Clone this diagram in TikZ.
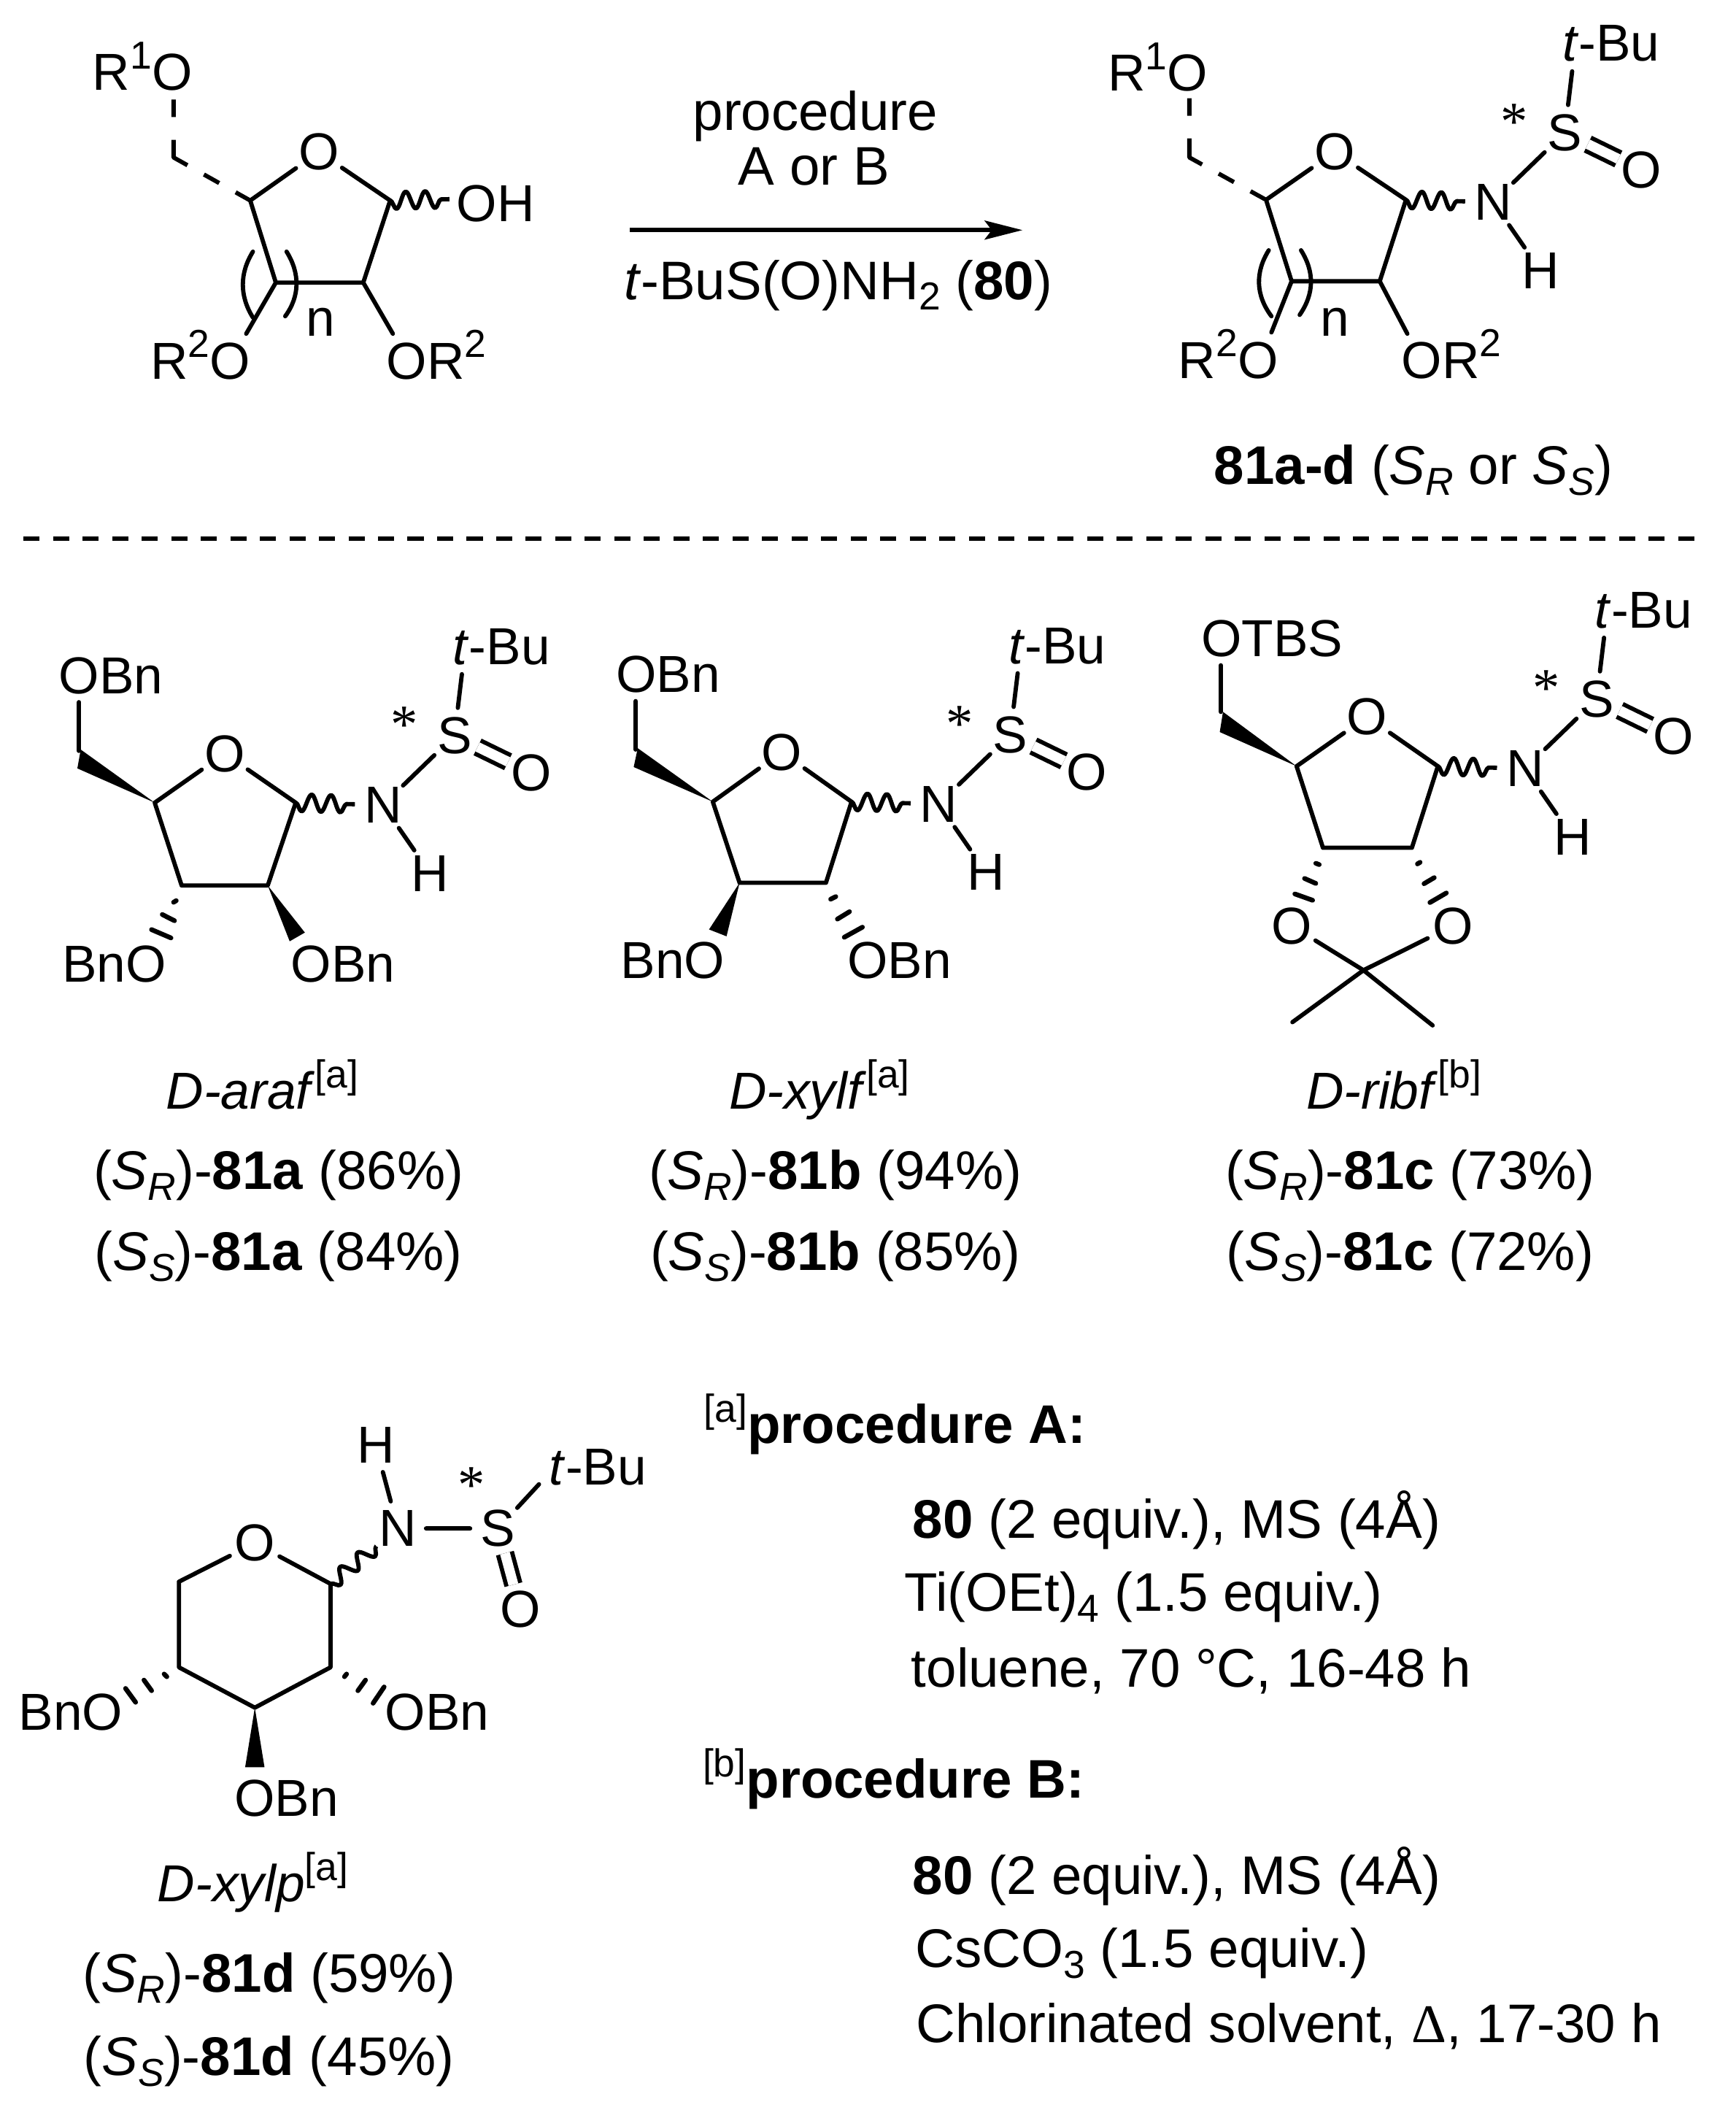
\documentclass[tikz,border=0pt]{standalone}
\usepackage{fontspec}
\setmainfont{Liberation Sans}
\newfontfamily\asterfont{Liberation Serif}
\usetikzlibrary{arrows.meta,decorations.pathmorphing}
\newcommand{\sups}[1]{\raisebox{9pt}{\fontsize{16.5}{16.5}\selectfont #1}}
\newcommand{\subs}[1]{\raisebox{-4.5pt}{\fontsize{16.5}{16.5}\selectfont #1}}
\tikzset{
  txt/.style={inner sep=0pt,font=\fontsize{22}{26}\selectfont},
  captxt/.style={inner sep=0pt,font=\fontsize{23}{27}\selectfont},
  atom/.style={txt,circle,minimum size=0.82cm},
  aster/.style={inner sep=0pt,anchor=base,font=\fontsize{23}{23}\selectfont\asterfont},
  bond/.style={line width=1.8pt,line cap=round,line join=round},
  hashbond/.style={line width=2pt,line cap=round},
  dblbond/.style={line width=1.8pt,double,double distance=4.2pt,shorten >=-1pt,shorten <=-1pt},
  wavybond/.style={line width=1.8pt,line join=round,decorate,decoration={snake,mirror,segment length=8.2pt,amplitude=3.6pt}},
  dashbond/.style={bond,line cap=butt,dash pattern=on 7.4pt off 9.6pt on 14.2pt off 8pt on 7.4pt off 8pt on 7pt},
}

\begin{document}
\begin{tikzpicture}[x=0.02cm,y=-0.02cm]
\useasboundingbox (0,0) rectangle (1290,1568);

% starting material
\coordinate (lC1) at (290,149);
\coordinate (lC2) at (270,210);
\coordinate (lC3) at (205,210);
\coordinate (lC4) at (186,149);
\coordinate (lCH) at (129,117);
\coordinate (lb1) at (129,74);
\coordinate (lb2) at (183,248);
\coordinate (lb3) at (292,248);
\coordinate (lb4) at (334,148);
\node[atom] (lO) at (237,113) {O};
\node[txt,anchor=base west] (lR1) at (68.5,67.2) {R\sups{1}O};
\node[txt,anchor=base west] (lR2) at (111.5,281.5) {R\sups{2}O};
\node[txt,anchor=base west] (lR3) at (287,281.5) {OR\sups{2}};
\node[txt,anchor=base west] (lOH) at (339,164.6) {OH};
\node[txt,anchor=base] (ln) at (238,250) {n};
\draw[bond] (lC4) -- (lO) -- (lC1) -- (lC2) -- (lC3) -- (lC4);
\draw[dashbond] (lb1) -- (lCH) -- (lC4);
\draw[bond] (lC3) -- (lb2);
\draw[bond] (lC2) -- (lb3);
\draw[wavybond] (lC1) -- (lb4);
\draw[bond] (188,187) .. controls (178,203) and (178,220) .. (188,236);
\draw[bond] (213,187) .. controls (223,203) and (223,220) .. (212,235);

% arrow
\coordinate (ar1) at (468,171);
\coordinate (ar2) at (760,171);
\draw[line width=1.8pt,-{Stealth[length=16pt,width=8pt,inset=3pt]}] (ar1) -- (ar2);
\node[captxt,anchor=base] (rxa) at (606,97) {procedure};
\node[captxt,anchor=base] (rxb) at (605,137.7) {A or B};
\node[captxt,anchor=base] (rxc) at (623,222.4) {\textit{t}-BuS(O)NH\subs{2} (\textbf{80})};

% product
\coordinate (rC1) at (1045,148.5);
\coordinate (rC2) at (1025.5,209);
\coordinate (rC3) at (960,209);
\coordinate (rC4) at (941,148.5);
\coordinate (rCH) at (884,117);
\coordinate (rb1) at (884,73);
\coordinate (rb2) at (945,247);
\coordinate (rb3) at (1046,248);
\node[atom] (rO) at (992,113) {O};
\node[txt,anchor=base west] (rR1) at (823,67.7) {R\sups{1}O};
\node[txt,anchor=base west] (rR2) at (875.5,281) {R\sups{2}O};
\node[txt,anchor=base west] (rR3) at (1041.5,281) {OR\sups{2}};
\node[txt,anchor=base] (rn) at (992,249.5) {n};
\draw[bond] (rC4) -- (rO) -- (rC1) -- (rC2) -- (rC3) -- (rC4);
\draw[dashbond] (rb1) -- (rCH) -- (rC4);
\draw[bond] (rC3) -- (rb2);
\draw[bond] (rC2) -- (rb3);
\draw[bond] (943,186) .. controls (933,202) and (933,219) .. (945,235);
\draw[bond] (967,186) .. controls (977,202) and (977,218) .. (966,234);
\begin{scope}[shift={(1045,148.5)}]
\node[atom] (rN) at (64.8,1.7) {N};
\node[atom] (rS) at (118,-49.8) {S};
\node[atom] (rOx) at (175,-22) {O};
\node[atom] (rH) at (100,52.5) {H};
\node[txt,anchor=base west] (rtBu) at (116,-103) {\textit{t}-Bu};
\node[aster] (rst) at (80.6,-44.5) {*};
\coordinate (rtb) at (123.5,-95.5);
\draw[bond] (rN) -- (rS) -- (rtb);
\draw[bond] (rN) -- (rH);
\draw[dblbond] (rS) -- (rOx);
\end{scope}
\draw[wavybond] (rC1) -- (rN);
\node[captxt,anchor=base] (rcap) at (1050.5,360) {\textbf{81a-d} (\textit{S}\subs{\textit{R}} or \textit{S}\subs{\textit{S}})};

% separator
\coordinate (sp1) at (17.4,400);
\coordinate (sp2) at (1265,400);
\draw[line width=1.85pt,dash pattern=on 6.8pt off 5.7pt] (sp1) -- (sp2);

% D-araf
\coordinate (aC1) at (219.8,596.5);
\coordinate (aC2) at (199,658);
\coordinate (aC3) at (135,658);
\coordinate (aC4) at (115,596.5);
\coordinate (aCH) at (58.8,558);
\coordinate (ab1) at (58.8,521.8);
\node[atom] (aO) at (167,560) {O};
\node[txt,anchor=base west] (aOa) at (43.5,515.4) {OBn};
\node[txt,anchor=base west] (aOb) at (46,729.5) {BnO};
\node[txt,anchor=base west] (aOc) at (216,729.5) {OBn};
\draw[bond] (aC4) -- (aO) -- (aC1) -- (aC2) -- (aC3) -- (aC4);
\draw[bond] (ab1) -- (aCH);
\fill (aC4) -- (60,557) -- (57.5,571) -- cycle;
\fill (aC2) -- (226.6,693) -- (215.3,699.5) -- cycle;
\draw[hashbond] (129,670.5) -- (131,669.3);
\draw[hashbond] (120.6,679.6) -- (129.7,684.2);
\draw[hashbond] (112.6,690.8) -- (127.1,697);
\begin{scope}[shift={(219.8,596.5)}]
\node[atom] (aN) at (64.8,1.7) {N};
\node[atom] (aS) at (118,-49.8) {S};
\node[atom] (aOx) at (175,-22) {O};
\node[atom] (aH) at (100,52.5) {H};
\node[txt,anchor=base west] (atBu) at (116.5,-102.5) {\textit{t}-Bu};
\node[aster] (ast) at (80.6,-44.5) {*};
\coordinate (atb) at (123.5,-95.5);
\draw[bond] (aN) -- (aS) -- (atb);
\draw[bond] (aN) -- (aH);
\draw[dblbond] (aS) -- (aOx);
\end{scope}
\draw[wavybond] (aC1) -- (aN);
\node[txt,anchor=base] (acap) at (195,824) {\textit{D-araf}\sups{[a]}};
\node[captxt,anchor=base] (ala) at (207,884) {(\textit{S}\subs{\textit{R}})-\textbf{81a} (86\%)};
\node[captxt,anchor=base] (alb) at (207,944) {(\textit{S}\subs{\textit{S}})-\textbf{81a} (84\%)};

% D-xylf
\coordinate (bC1) at (632.9,595.8);
\coordinate (bC2) at (613.9,656);
\coordinate (bC3) at (549.7,656);
\coordinate (bC4) at (529.8,595.8);
\coordinate (bCH) at (472.5,557);
\coordinate (bb1) at (472.5,521);
\node[atom] (bO) at (581,559) {O};
\node[txt,anchor=base west] (bOa) at (457.5,514.4) {OBn};
\node[txt,anchor=base west] (bOb) at (461,727) {BnO};
\node[txt,anchor=base west] (bOc) at (629.5,727) {OBn};
\draw[bond] (bC4) -- (bO) -- (bC1) -- (bC2) -- (bC3) -- (bC4);
\draw[bond] (bb1) -- (bCH);
\fill (bC4) -- (474,556) -- (471,570) -- cycle;
\fill (bC3) -- (527,690.7) -- (540,695.8) -- cycle;
\draw[hashbond] (617.4,668.2) -- (621.2,666.3);
\draw[hashbond] (622.4,683) -- (631.4,677.5);
\draw[hashbond] (627.5,696.5) -- (641,689);
\begin{scope}[shift={(632.9,595.8)}]
\node[atom] (bN) at (64.8,1.7) {N};
\node[atom] (bS) at (118,-49.8) {S};
\node[atom] (bOx) at (175,-22) {O};
\node[atom] (bH) at (100,52.5) {H};
\node[txt,anchor=base west] (btBu) at (116.5,-102.5) {\textit{t}-Bu};
\node[aster] (bst) at (80.6,-44.5) {*};
\coordinate (btb) at (123.5,-95.5);
\draw[bond] (bN) -- (bS) -- (btb);
\draw[bond] (bN) -- (bH);
\draw[dblbond] (bS) -- (bOx);
\end{scope}
\draw[wavybond] (bC1) -- (bN);
\node[txt,anchor=base] (bcap) at (609,824) {\textit{D-xylf}\sups{[a]}};
\node[captxt,anchor=base] (bla) at (621,884) {(\textit{S}\subs{\textit{R}})-\textbf{81b} (94\%)};
\node[captxt,anchor=base] (blb) at (621,944) {(\textit{S}\subs{\textit{S}})-\textbf{81b} (85\%)};

% D-ribf
\coordinate (cC1) at (1068.7,569.4);
\coordinate (cC2) at (1049.4,630);
\coordinate (cC3) at (983.3,630);
\coordinate (cC4) at (963.7,569.4);
\coordinate (cCH) at (907.4,529);
\coordinate (cb1) at (907.4,494.4);
\coordinate (cCq) at (1013.4,721);
\coordinate (cMa) at (960.6,759.6);
\coordinate (cMb) at (1064.8,762);
\node[atom] (cO) at (1016,532.7) {O};
\node[atom] (cOl) at (960,688) {O};
\node[atom] (cOr) at (1079.8,688) {O};
\node[txt,anchor=base west] (cOa) at (892.5,488) {OTBS};
\draw[bond] (cC4) -- (cO) -- (cC1) -- (cC2) -- (cC3) -- (cC4);
\draw[bond] (cb1) -- (cCH);
\fill (cC4) -- (909,529) -- (906.6,544) -- cycle;
\draw[bond] (cOl) -- (cCq) -- (cOr);
\draw[bond] (cMa) -- (cCq) -- (cMb);
\draw[hashbond] (978,641.5) -- (980.5,642.5);
\draw[hashbond] (969.6,652.8) -- (978,656.5);
\draw[hashbond] (962.4,664.3) -- (975.6,669);
\draw[hashbond] (1053.5,642) -- (1055.5,640.8);
\draw[hashbond] (1058.4,656.7) -- (1066,652.2);
\draw[hashbond] (1062.8,670.7) -- (1075,663.6);
\begin{scope}[shift={(1068.7,569.4)}]
\node[atom] (cN) at (64.8,1.7) {N};
\node[atom] (cS) at (118,-49.8) {S};
\node[atom] (cOx) at (175,-22) {O};
\node[atom] (cH) at (100,52.5) {H};
\node[txt,anchor=base west] (ctBu) at (116.5,-102.5) {\textit{t}-Bu};
\node[aster] (cst) at (80.6,-44.5) {*};
\coordinate (ctb) at (123.5,-95.5);
\draw[bond] (cN) -- (cS) -- (ctb);
\draw[bond] (cN) -- (cH);
\draw[dblbond] (cS) -- (cOx);
\end{scope}
\draw[wavybond] (cC1) -- (cN);
\node[txt,anchor=base] (ccap) at (1036,824) {\textit{D-ribf}\sups{[b]}};
\node[captxt,anchor=base] (cla) at (1048,884) {(\textit{S}\subs{\textit{R}})-\textbf{81c} (73\%)};
\node[captxt,anchor=base] (clb) at (1048,944) {(\textit{S}\subs{\textit{S}})-\textbf{81c} (72\%)};

% D-xylp
\coordinate (dC1) at (245.7,1177);
\coordinate (dC2) at (245.7,1239);
\coordinate (dC3) at (189.4,1269);
\coordinate (dC4) at (133,1239);
\coordinate (dC5) at (133,1175.4);
\coordinate (dtb) at (400.6,1103);
\node[atom] (dO) at (189.4,1146.8) {O};
\node[atom] (dN) at (295.8,1135.8) {N};
\node[atom] (dS) at (370.3,1135.8) {S};
\node[atom] (dH) at (279.2,1073.8) {H};
\node[atom] (dOx) at (386.6,1196) {O};
\node[txt,anchor=base west] (dtBu) at (408,1103.7) {\textit{t}-Bu};
\node[aster] (dst) at (350.6,1116.8) {*};
\node[txt,anchor=base west] (dOa) at (13.6,1285.7) {BnO};
\node[txt,anchor=base west] (dOb) at (286,1285.7) {OBn};
\node[txt,anchor=base west] (dOc) at (174,1349.5) {OBn};
\draw[bond] (dC5) -- (dO) -- (dC1) -- (dC2) -- (dC3) -- (dC4) -- (dC5);
\draw[bond] (dH) -- (dN) -- (dS) -- (dtb);
\draw[dblbond] (dS) -- (dOx);
\draw[wavybond,decoration={snake,mirror,segment length=9.5pt,amplitude=3pt}] (dC1) -- (dN);
\fill (dC3) -- (182.2,1313.3) -- (196.6,1313.3) -- cycle;
\draw[hashbond] (122,1244) -- (124,1246);
\draw[hashbond] (107,1248.5) -- (112.7,1256.4);
\draw[hashbond] (93.3,1254.7) -- (100.8,1265);
\draw[hashbond] (256,1246) -- (257.6,1244);
\draw[hashbond] (266,1256.4) -- (271.7,1248.5);
\draw[hashbond] (277.3,1265.7) -- (285.5,1253.6);
\node[txt,anchor=base] (dcap) at (188,1413) {\textit{D-xylp}\sups{[a]}};
\node[captxt,anchor=base] (dla) at (200,1480.4) {(\textit{S}\subs{\textit{R}})-\textbf{81d} (59\%)};
\node[captxt,anchor=base] (dlb) at (200,1542.4) {(\textit{S}\subs{\textit{S}})-\textbf{81d} (45\%)};

% procedures
\node[captxt,anchor=base west] (pAt) at (523,1072.5) {\sups{[a]}\textbf{procedure A:}};
\node[captxt,anchor=base west] (pAa) at (678,1143) {\textbf{80} (2 equiv.), MS (4Å)};
\node[captxt,anchor=base west] (pAb) at (672,1197.4) {Ti(OEt)\subs{4} (1.5 equiv.)};
\node[captxt,anchor=base west] (pAc) at (677,1253.6) {toluene, 70 °C, 16-48 h};
\node[captxt,anchor=base west] (pBt) at (522,1336) {\sups{[b]}\textbf{procedure B:}};
\node[captxt,anchor=base west] (pBa) at (678,1407.6) {\textbf{80} (2 equiv.), MS (4Å)};
\node[captxt,anchor=base west] (pBb) at (680,1462) {CsCO\subs{3} (1.5 equiv.)};
\node[captxt,anchor=base west] (pBc) at (680.5,1518) {Chlorinated solvent, {\asterfont Δ}, 17-30 h};

\end{tikzpicture}
\end{document}
